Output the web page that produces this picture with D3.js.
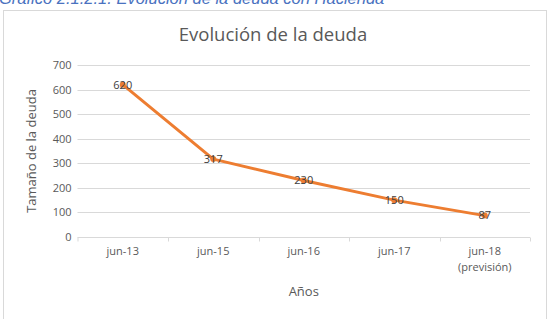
<!DOCTYPE html>
<html>
<head>
<meta charset="utf-8">
<title>Evolución de la deuda</title>
<style type="text/css">
body { margin:0; background:#fff; }
svg { display:block; font-family:"Open Sans", "Noto Sans", sans-serif; }
.caption { font-family:"Liberation Sans", Arial, sans-serif; font-style:italic; fill:#4a72c0; font-size:16.5px; }
.frame { fill:#fff; stroke:#d9d9d9; stroke-width:1px; }
.title { fill:#595959; font-size:18.5px; }
.axis text { fill:#595959; font-size:11px; font-family:"Open Sans", "Noto Sans", sans-serif; }
.grid line { stroke:#d9d9d9; }
.axistitle { fill:#595959; font-size:13px; }
.lbl { fill:#404040; font-size:11px; }
</style>
</head>
<body>
<div id="chart"></div>
<script src="https://cdn.jsdelivr.net/npm/d3@7"></script>
<script>

var categories = ["jun-13", "jun-15", "jun-16", "jun-17", "jun-18\n(previsión)"];
var values = [620, 317, 230, 150, 87];
var yTicks = [0, 100, 200, 300, 400, 500, 600, 700];

var W = 551, H = 319;
var plot = {left:77.5, right:530, top:65, bottom:237};

var svg = d3.select("#chart").append("svg")
	.attr("width", W)
	.attr("height", H);

svg.append("text")
	.attr("class", "caption")
	.attr("x", -1)
	.attr("y", 4)
	.text("Gráfico 2.1.2.1: Evolución de la deuda con Hacienda");

svg.append("rect")
	.attr("class", "frame")
	.attr("x", 3.5)
	.attr("y", 10.5)
	.attr("width", 543)
	.attr("height", 320);

svg.append("text")
	.attr("class", "title")
	.attr("x", 273)
	.attr("y", 41)
	.attr("text-anchor", "middle")
	.text("Evolución de la deuda");

var x = d3.scaleBand().domain(categories).range([plot.left, plot.right]);
var y = d3.scaleLinear().domain([0, 700]).range([plot.bottom, plot.top]);

// gridlines
svg.append("g").attr("class", "grid")
	.selectAll("line")
	.data(yTicks.slice(1))
	.enter().append("line")
	.attr("x1", plot.left).attr("x2", plot.right)
	.attr("y1", function(d){ return Math.round(y(d)) + 0.5; })
	.attr("y2", function(d){ return Math.round(y(d)) + 0.5; });

// y axis labels
var yAxis = svg.append("g")
	.attr("class", "axis")
	.attr("transform", "translate(" + (plot.left - 6) + ",0)")
	.call(d3.axisLeft(y).tickValues(yTicks).tickSize(0).tickPadding(0));
yAxis.select(".domain").remove();

// x axis
var xAxis = svg.append("g")
	.attr("class", "axis")
	.attr("transform", "translate(0," + (plot.bottom + 0.5) + ")")
	.call(d3.axisBottom(x).tickSize(0).tickPadding(10));
xAxis.select(".domain").attr("stroke", "#d9d9d9").attr("d", "M" + plot.left + ",0H" + plot.right);
xAxis.selectAll(".tick text").each(function(d){
	var t = d3.select(this), lines = d.split("\n");
	t.text(null);
	lines.forEach(function(s, i){
		t.append("tspan").attr("x", 0).attr("dy", i == 0 ? "0.71em" : "1.4em").text(s);
	});
});
// category boundary ticks
xAxis.selectAll(".sep")
	.data(categories)
	.enter().append("line")
	.attr("x1", function(d){ return Math.round(x(d) + x.bandwidth()) + 0.5; })
	.attr("x2", function(d){ return Math.round(x(d) + x.bandwidth()) + 0.5; })
	.attr("y1", 0).attr("y2", 4)
	.attr("stroke", "#d9d9d9");
xAxis.append("line")
	.attr("x1", plot.left + 0.5).attr("x2", plot.left + 0.5)
	.attr("y1", 0).attr("y2", 4)
	.attr("stroke", "#d9d9d9");

svg.append("text")
	.attr("class", "axistitle")
	.attr("x", (plot.left + plot.right) / 2)
	.attr("y", 296)
	.attr("text-anchor", "middle")
	.text("Años");

svg.append("text")
	.attr("class", "axistitle")
	.attr("transform", "translate(36," + ((plot.top + plot.bottom) / 2) + ") rotate(-90)")
	.attr("text-anchor", "middle")
	.text("Tamaño de la deuda");

var pts = values.map(function(v, i){ return [x(categories[i]) + x.bandwidth() / 2, y(v)]; });

svg.append("path")
	.datum(pts)
	.attr("d", d3.line())
	.attr("fill", "none")
	.attr("stroke", "#ed7d31")
	.attr("stroke-width", 3)
	.attr("stroke-linejoin", "round");

svg.selectAll(".dot")
	.data(pts)
	.enter().append("circle")
	.attr("class", "dot")
	.attr("cx", function(d){ return d[0]; })
	.attr("cy", function(d){ return d[1]; })
	.attr("r", 3)
	.attr("fill", "#ed7d31");

svg.selectAll(".lbl")
	.data(values)
	.enter().append("text")
	.attr("class", "lbl")
	.attr("x", function(d, i){ return pts[i][0]; })
	.attr("y", function(d, i){ return pts[i][1]; })
	.attr("dy", "0.35em")
	.attr("text-anchor", "middle")
	.text(String);

</script>
</body>
</html>
